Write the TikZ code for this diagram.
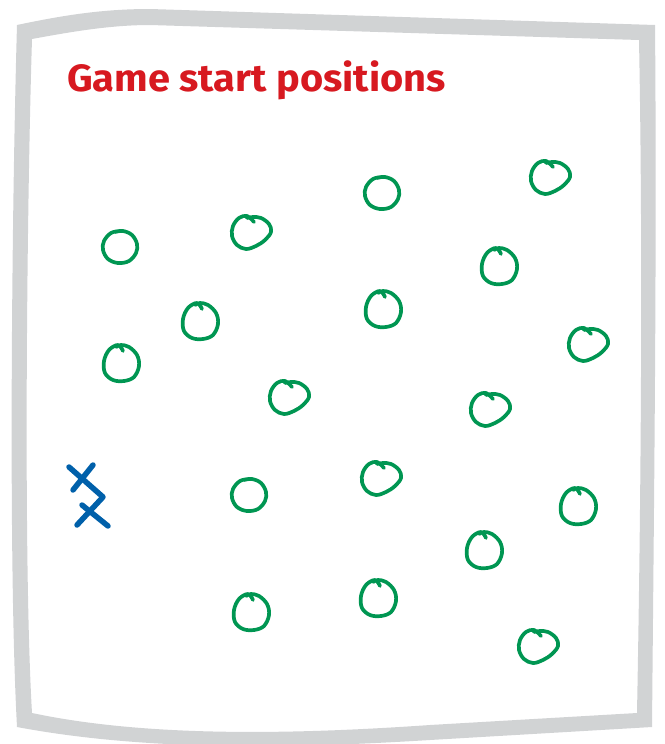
\documentclass[tikz,border=0pt]{standalone}
\usepackage{fontspec}
\newfontfamily\titlefont{Fira Sans}
\definecolor{framegray}{RGB}{209,211,212}
\definecolor{titlered}{RGB}{215,25,32}
\definecolor{penggreen}{RGB}{0,150,82}
\definecolor{penblue}{RGB}{0,96,170}
\tikzset{
  ostroke/.style={draw=penggreen, line width=3.7pt, line cap=round, line join=round},
  xstroke/.style={draw=penblue, line width=5.5pt, line cap=round, line join=round},
  ovalmark/.pic={\draw[ostroke] plot[smooth, tension=0.6] coordinates {(0,-16) (-9,-14) (-16,-6) (-17,3) (-12,12) (-2,16) (9,14) (16,6) (17,-3) (12,-12) (3,-16) (-5,-15)};},
  eggmark/.pic={\draw[ostroke] plot[smooth, tension=0.6] coordinates {(2,-12) (-3,-18) (-12,-13) (-17,-2) (-16,10) (-8,17) (3,18) (13,14) (18,3) (16,-8) (8,-16) (0,-18) (-5,-16)};},
  heartmark/.pic={\draw[ostroke] plot[smooth, tension=0.6] coordinates {(3,-10) (-4,-16) (-12,-14) (-18,-6) (-19,4) (-14,13) (-5,17) (5,14) (14,8) (20,0) (18,-8) (10,-14) (2,-15) (-4,-14)};}
}
\begin{document}
\begin{tikzpicture}[x=1pt,y=-1pt]
\useasboundingbox (0,0) rectangle (664,744);
\fill[framegray, even odd rule]
  (17,25) .. controls (60,16) and (100,9) .. (150,9) -- (655,25)
  .. controls (657,250) and (654,500) .. (652,727) -- (430,740)
  .. controls (300,748) and (150,752) .. (17,727)
  .. controls (8,560) and (12,200) .. (17,25) -- cycle
  (32,39) .. controls (70,32) and (110,25) .. (150,25) -- (639,40)
  .. controls (643,250) and (641,500) .. (637,713) -- (430,725)
  .. controls (300,734) and (150,738) .. (32,713)
  .. controls (23,560) and (27,200) .. (32,39) -- cycle;
\node[anchor=base west, inner sep=0pt, text=titlered, xscale=1.047, font=\titlefont\bfseries\fontsize{38}{40}\selectfont] (title) at (67,91) {Game start positions};
% ovals
\foreach \p in {(120,247),(382,193),(249,495)} \pic at \p {ovalmark};
% eggs
\foreach \p in {(200,321),(383,309),(121,363),(499,266),(578,506),(484,550),(251,612),(378,598)} \pic at \p {eggmark};
% hearts
\foreach \p in {(251,232),(289,397),(550,177),(588,344),(490,409),(381,478),(538,646)} \pic at \p {heartmark};
% X marks
\draw[xstroke] (93,465) -- (73,490);
\draw[xstroke] (69,467) -- (103,497) -- (77,525);
\draw[xstroke] (82,505) -- (108,526);
\end{tikzpicture}
\end{document}
